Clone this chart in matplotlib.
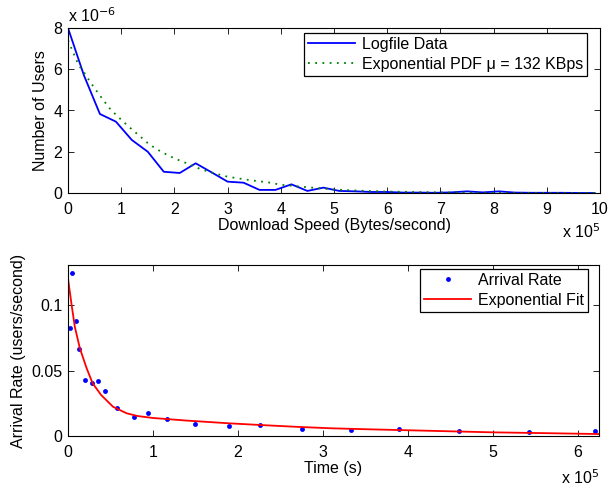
import matplotlib
matplotlib.use("Agg")
import matplotlib.pyplot as plt
from matplotlib.ticker import FuncFormatter
import numpy as np

plt.rcParams['font.family'] = ['Liberation Sans', 'DejaVu Sans']
plt.rcParams['font.size'] = 11.5

# --- top panel: download speed distribution ---
speed_step = 0.3e5
logfile_users = [8.0, 5.7, 3.83, 3.46, 2.57, 2.0, 1.03, 0.97, 1.44, 1.0,
                 0.55, 0.50, 0.15, 0.15, 0.42, 0.10, 0.26, 0.10, 0.08, 0.05,
                 0.05, 0.02, 0.02, 0.01, 0.03, 0.08, 0.03, 0.08, 0.02, 0.01,
                 0.01, 0.01, 0.0, 0.0]
speeds = np.arange(len(logfile_users)) * speed_step
logfile_users = np.array(logfile_users) * 1e-6

pdf_speeds = np.array([0, 0.1, 0.2, 0.3, 0.4, 0.5, 0.65, 0.8, 1.0, 1.15, 1.33,
                       1.53, 1.75, 2.0, 2.25, 2.5, 2.7, 3.0, 3.4, 3.8, 4.0,
                       4.5, 5.0, 5.5, 6.0, 7.0, 8.0, 10.0]) * 1e5
pdf_users = np.array([7.4, 6.8, 6.2, 5.85, 5.45, 5.08, 4.55, 4.05, 3.55, 3.2,
                      2.8, 2.35, 2.0, 1.68, 1.42, 1.15, 0.99, 0.79, 0.63, 0.5,
                      0.4, 0.28, 0.17, 0.11, 0.07, 0.03, 0.01, 0.0]) * 1e-6

# --- bottom panel: arrival rate ---
arrival_time = np.array([0.028, 0.052, 0.09, 0.13, 0.20, 0.28, 0.35, 0.435,
                         0.573, 0.777, 0.94, 1.17, 1.49, 1.89, 2.26, 2.76,
                         3.33, 3.90, 4.60, 5.43, 6.20]) * 1e5
arrival_rate = [0.0824, 0.125, 0.0883, 0.0666, 0.0429, 0.0403, 0.0423,
                0.0347, 0.0212, 0.0148, 0.0178, 0.0127, 0.0094, 0.0074,
                0.0082, 0.0056, 0.0048, 0.0054, 0.0041, 0.0033, 0.0038]

fit_time = np.array([0, 0.04, 0.08, 0.14, 0.22, 0.29, 0.39, 0.53, 0.69, 0.82,
                     1.0, 1.12, 1.4, 1.9, 2.3, 2.7, 3.1, 3.5, 4.0, 4.5, 5.0,
                     5.6, 6.25]) * 1e5
fit_rate = [0.1207, 0.1016, 0.0837, 0.0671, 0.0518, 0.0404, 0.0314, 0.0224,
            0.0174, 0.0153, 0.0138, 0.0132, 0.0118, 0.0097, 0.0083, 0.0070,
            0.0059, 0.0052, 0.0044, 0.0036, 0.0028, 0.0022, 0.0015]

W, H = 608, 486
fig = plt.figure(figsize=(W / 100, H / 100), dpi=100)


def box(l, t, r, b):
    return [l / W, 1 - b / H, (r - l) / W, (b - t) / H]


def matlab_axes(ax):
    ax.tick_params(direction='in', top=True, right=True, length=4,
                   width=0.6, pad=4)
    ax.tick_params(axis='x', pad=6.5)
    for s in ax.spines.values():
        s.set_linewidth(0.8)


leg_kw = dict(fancybox=False, edgecolor='black', framealpha=1,
              handlelength=2.9, borderaxespad=0, borderpad=0.25,
              labelspacing=0.3, handletextpad=0.45)

ax1 = fig.add_axes(box(68, 28, 600, 193))
ax1.plot(speeds, logfile_users, color='#0000ff', lw=1.3, label='Logfile Data')
ax1.plot(pdf_speeds, pdf_users, color='#008000', lw=1.3, ls=(0, (1, 3)),
         label='Exponential PDF \u03bc = 132 KBps')
ax1.set_xlim(0, 10e5)
ax1.set_ylim(0, 8e-6)
ax1.set_xticks(np.arange(11) * 1e5)
ax1.set_yticks(np.arange(0, 9, 2) * 1e-6)
ax1.xaxis.set_major_formatter(FuncFormatter(lambda v, p: '%g' % (v / 1e5)))
ax1.yaxis.set_major_formatter(FuncFormatter(lambda v, p: '%g' % (v / 1e-6)))
matlab_axes(ax1)
ax1.set_xlabel('Download Speed (Bytes/second)', labelpad=1)
ax1.set_ylabel('Number of Users', labelpad=4)
ax1.text(0.0, 1.02, 'x 10$^{-6}$', transform=ax1.transAxes, ha='left',
         va='bottom')
ax1.text(1.0, -0.18, 'x 10$^{5}$', transform=ax1.transAxes, ha='right',
         va='top')
leg1 = ax1.legend(loc='upper right', bbox_to_anchor=(0.9756, 0.9697), **leg_kw)
leg1.get_frame().set_linewidth(0.9)

ax2 = fig.add_axes(box(68, 265, 599, 436))
ax2.plot(arrival_time, arrival_rate, 'o', color='#0000ff', ms=3.5, mew=0,
         label='Arrival Rate')
ax2.plot(fit_time, fit_rate, color='#ff0000', lw=1.3, label='Exponential Fit')
ax2.set_xlim(0, 6.25e5)
ax2.set_ylim(0, 0.131)
ax2.set_xticks(np.arange(7) * 1e5)
ax2.set_yticks([0, 0.05, 0.1])
ax2.xaxis.set_major_formatter(FuncFormatter(lambda v, p: '%g' % (v / 1e5)))
ax2.yaxis.set_major_formatter(FuncFormatter(lambda v, p: '%g' % v))
matlab_axes(ax2)
ax2.set_xlabel('Time (s)', labelpad=1)
ax2.set_ylabel('Arrival Rate (users/second)', labelpad=4)
ax2.text(1.0, -0.19, 'x 10$^{5}$', transform=ax2.transAxes, ha='right',
         va='top')
leg2 = ax2.legend(loc='upper right', bbox_to_anchor=(0.979, 0.9766), **leg_kw)
leg2.get_frame().set_linewidth(0.9)

fig.savefig('out.png', dpi=100)
